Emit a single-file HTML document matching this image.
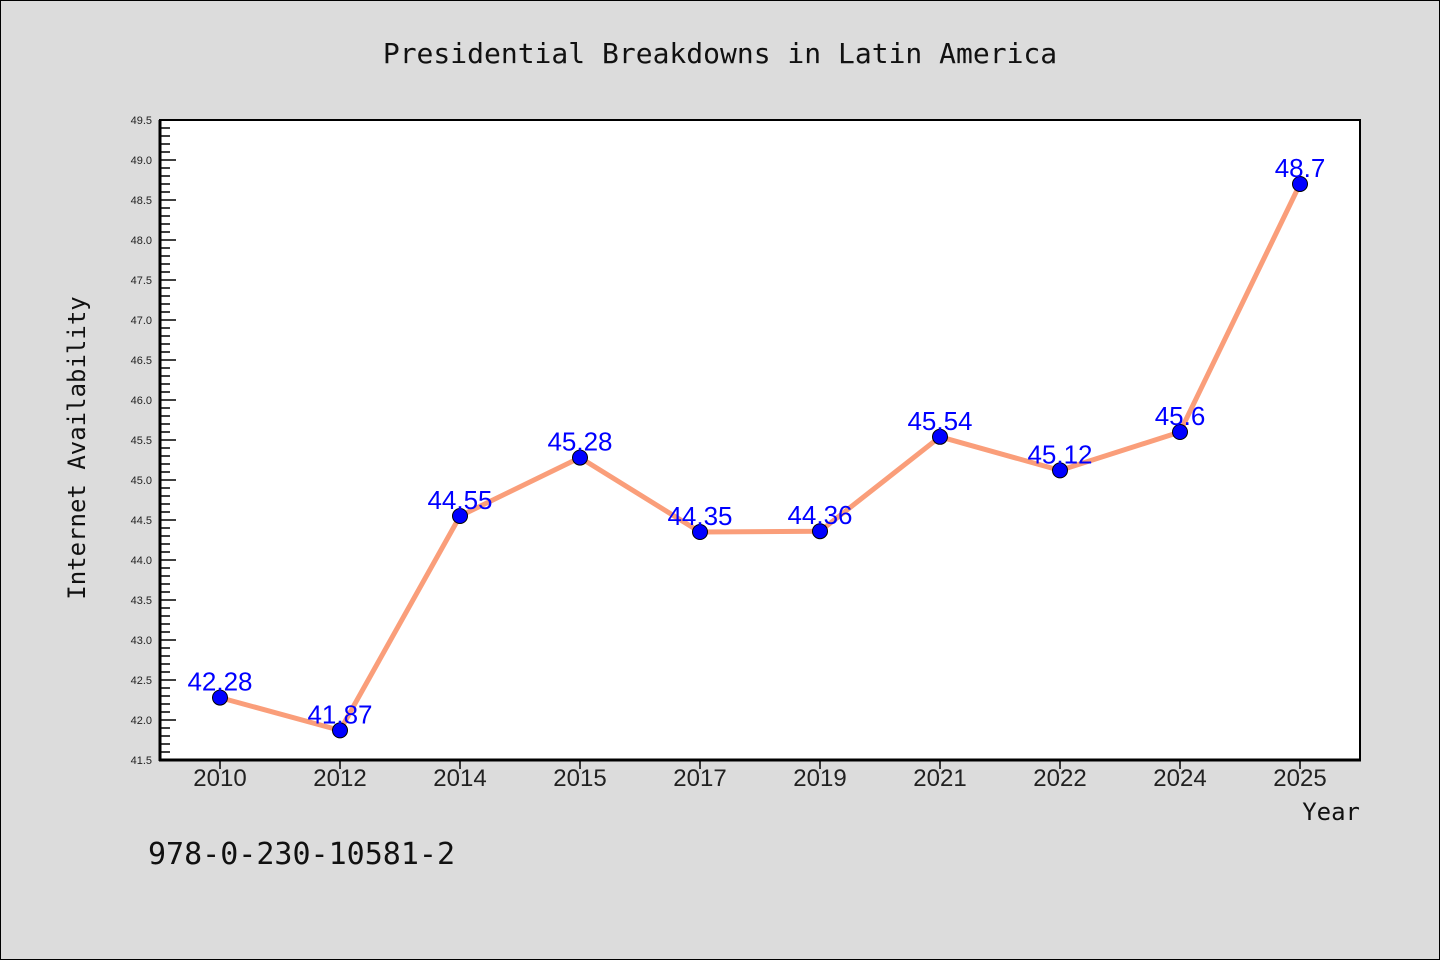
<!DOCTYPE html>
<html><head><meta charset="utf-8"><style>
body{margin:0;background:#dcdcdc;}
svg{display:block;font-family:"Liberation Sans","DejaVu Sans",sans-serif;}
</style></head><body>
<svg id="chart" width="1440" height="960">
<rect x="0.5" y="0.5" width="1439" height="959" fill="#dcdcdc" stroke="#000" stroke-width="1"/>
<text x="720" y="63" text-anchor="middle" font-size="28" font-family="DejaVu Sans Mono, Liberation Mono, monospace" fill="#111">Presidential Breakdowns in Latin America</text>
<rect x="160" y="120" width="1200" height="640" fill="#fff" stroke="#000" stroke-width="2"/>
<g id="yaxis"></g>
<g id="xaxis"></g>
<g id="series"></g>
<text transform="translate(85,448) rotate(-90)" text-anchor="middle" font-size="24" font-family="DejaVu Sans Mono, Liberation Mono, monospace" fill="#111">Internet Availability</text>
<text x="1360" y="820" text-anchor="end" font-size="24" font-family="DejaVu Sans Mono, Liberation Mono, monospace" fill="#111">Year</text>
<text x="148" y="864" font-size="30" font-family="DejaVu Sans Mono, Liberation Mono, monospace" fill="#111">978-0-230-10581-2</text>
</svg>
<script>
const categories = ["2010","2012","2014","2015","2017","2019","2021","2022","2024","2025"];
const values = [42.28,41.87,44.55,45.28,44.35,44.36,45.54,45.12,45.6,48.7];
const valueLabels = ["42.28","41.87","44.55","45.28","44.35","44.36","45.54","45.12","45.6","48.7"];
const yTicks = ["41.5","42.0","42.5","43.0","43.5","44.0","44.5","45.0","45.5","46.0","46.5","47.0","47.5","48.0","48.5","49.0","49.5"];
const yMin = 41.5, yMax = 49.5;
const L=160,R=1360,T=120,B=760;
const NS="http://www.w3.org/2000/svg";
function y(v){return B-(v-yMin)/(yMax-yMin)*(B-T);}
function x(i){return L+(i+0.5)*(R-L)/categories.length;}
function mk(tag,attrs,parent){const e=document.createElementNS(NS,tag);for(const k in attrs)e.setAttribute(k,attrs[k]);parent.appendChild(e);return e;}
const ya=document.getElementById('yaxis'),xa=document.getElementById('xaxis'),sg=document.getElementById('series');
for(let v=yMin; v<=yMax+1e-9; v+=0.1){
  const major=Math.abs((v-yMin)/0.5-Math.round((v-yMin)/0.5))<1e-6;
  const t=mk('line',{x1:L,x2:L+(major?16:10),y1:y(v),y2:y(v),stroke:'#000','stroke-width':1.5},ya);
  
  
}
yTicks.forEach(s=>{
  const t=mk('text',{x:L-8,y:y(parseFloat(s))+4,'text-anchor':'end','font-size':11,fill:'#222'},ya);
  t.textContent=s;
  
  
});
mk('line',{x1:L,x2:L,y1:T,y2:B+1,stroke:'#000','stroke-width':3},ya);
mk('line',{x1:L-1,x2:R+1,y1:B,y2:B,stroke:'#000','stroke-width':3},xa);
categories.forEach((c,i)=>{
  const tk=mk('line',{x1:x(i),x2:x(i),y1:B,y2:B+9,stroke:'#000','stroke-width':1.5},xa);
  
  
  const t=mk('text',{x:x(i),y:B+26,'text-anchor':'middle','font-size':24,fill:'#222'},xa);
  t.textContent=c;
  
  
});
const line=mk('polyline',{points:values.map((v,i)=>x(i)+','+y(v)).join(' '),fill:'none',stroke:'#fa9e7a','stroke-width':5,'stroke-linejoin':'round'},sg);


values.forEach((v,i)=>{
  const c=mk('circle',{cx:x(i),cy:y(v),r:7.5,fill:'#0000ff',stroke:'#000','stroke-width':1},sg);
  
  
});
values.forEach((v,i)=>{
  const t=mk('text',{x:x(i),y:y(v)-7,'text-anchor':'middle','font-size':26,fill:'#0000ff'},sg);
  t.textContent=valueLabels[i];
  
  
});
</script>
</body></html>
